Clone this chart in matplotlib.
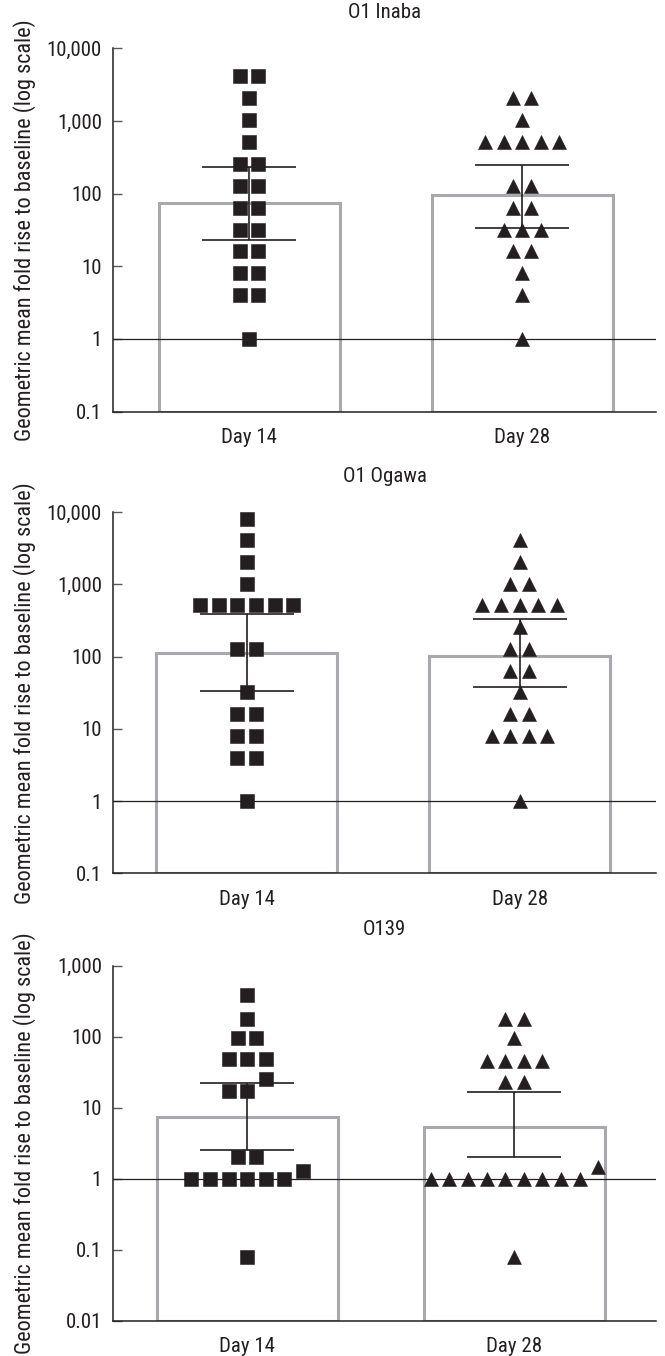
import numpy as np
import matplotlib
matplotlib.use('Agg')
import matplotlib.pyplot as plt
from matplotlib import font_manager
from matplotlib.ticker import FixedLocator, NullLocator

# pick a condensed sans if one is installed (figure uses a narrow Helvetica)
entries = font_manager.fontManager.ttflist
names = {f.name for f in entries}
if 'Liberation Sans Narrow' in names:
    plt.rcParams['font.family'] = ['Liberation Sans Narrow', 'DejaVu Sans']
elif 'Roboto Condensed' in names:
    plt.rcParams['font.family'] = ['Roboto Condensed', 'DejaVu Sans']
elif any(f.name == 'DejaVu Sans' and f.stretch == 'condensed' for f in entries):
    plt.rcParams['font.family'] = ['DejaVu Sans']
    plt.rcParams['font.stretch'] = 'condensed'
else:
    plt.rcParams['font.family'] = ['Liberation Sans', 'DejaVu Sans']

# Panel titles and categories
titles = ['O1 Inaba', 'O1 Ogawa', 'O139']
days = ['Day 14', 'Day 28']
ylabel = 'Geometric mean fold rise to baseline (log scale)'

# Individual fold rises
inaba_d14 = [4096, 4096, 2048, 1024, 512, 256, 256, 128, 128, 64, 64, 32, 32, 16, 16, 8, 8, 4, 4, 1]
inaba_d28 = [2048, 2048, 1024, 512, 512, 512, 512, 512, 128, 128, 64, 64, 32, 32, 32, 16, 16, 8, 4, 1]
ogawa_d14 = [8192, 4096, 2048, 1024, 512, 512, 512, 512, 512, 512, 128, 128, 32, 16, 16, 8, 8, 4, 4, 1]
ogawa_d28 = [4096, 2048, 1024, 1024, 512, 512, 512, 512, 512, 256, 128, 128, 64, 64, 32, 16, 16,
             8, 8, 8, 8, 1]
o139_d14 = [390, 180, 95, 95, 48, 48, 48, 25, 17, 17, 2, 2, 1.27, 1, 1, 1, 1, 1, 1, 0.08]
o139_d28 = [180, 180, 95, 46, 46, 46, 46, 23, 23, 1.45, 1, 1, 1, 1, 1, 1, 1, 1, 1, 0.08]

# Geometric means and 95% CI (Day 14, Day 28)
inaba_gm = [74, 97]
inaba_lo = [23, 34]
inaba_hi = [234, 245]
ogawa_gm = [113, 102]
ogawa_lo = [34, 38]
ogawa_hi = [389, 332]
o139_gm = [7.4, 5.3]
o139_lo = [2.5, 2.0]
o139_hi = [22, 16.6]

inaba_ticks = [0.1, 1, 10, 100, 1000, 10000]
ogawa_ticks = [0.1, 1, 10, 100, 1000, 10000]
o139_ticks = [0.01, 0.1, 1, 10, 100, 1000]

panels = [
    (titles[0], inaba_d14, inaba_d28, inaba_gm, inaba_lo, inaba_hi, inaba_ticks),
    (titles[1], ogawa_d14, ogawa_d28, ogawa_gm, ogawa_lo, ogawa_hi, ogawa_ticks),
    (titles[2], o139_d14, o139_d28, o139_gm, o139_lo, o139_hi, o139_ticks),
]

dark = '#231f20'
grey = '#a7a9ac'

rects = [[0.170, 0.6964, 0.8165, 0.2680],
         [0.170, 0.3560, 0.8165, 0.2662],
         [0.170, 0.0260, 0.8165, 0.2618]]
xlims = [(-0.498, 1.49), (-0.49, 1.50), (-0.502, 1.53)]


def swarm_offsets(vals, tol=0.2):
    # spread equal values side by side; lone points close to a row join it
    logs = np.round(np.log10(vals), 6)
    uniq, counts = np.unique(logs, return_counts=True)
    owner = {u: u for u in uniq}
    for u, c in zip(uniq, counts):
        if c == 1 and len(uniq) > 1:
            near = min([o for o in uniq if o != u], key=lambda o: abs(o - u))
            if abs(near - u) < tol:
                owner[u] = near
    rows = {}
    for i, lv in enumerate(logs):
        rows.setdefault(owner[lv], []).append(i)
    offs = np.zeros(len(vals))
    for idx in rows.values():
        idx = sorted(idx, key=lambda i: logs[i])
        n = len(idx)
        for k, i in enumerate(idx):
            offs[i] = k - (n - 1) / 2
    return offs


def fmt(v):
    return '{:,}'.format(int(v)) if v >= 1 else '{:g}'.format(v)


fig = plt.figure(figsize=(6.65, 13.56), dpi=100)

# size the fonts to the widths seen in the figure
rend = fig.canvas.get_renderer()


def text_width(s):
    t = fig.text(0, 0, s, fontsize=10)
    w = t.get_window_extent(rend).width
    t.remove()
    return w


fs = 10 * 55 / text_width('10,000')
lab_fs = 10 * 418 / text_width(ylabel)

for (title, d14, d28, gm, lo, hi, ticks), rect, xl in zip(panels, rects, xlims):
    ax = fig.add_axes(rect)
    ax.set_yscale('log')
    ymin, ymax = ticks[0], ticks[-1]
    ax.set_ylim(ymin, ymax)
    ax.set_xlim(*xl)

    px_unit = rect[2] * 665 / (xl[1] - xl[0])
    step = 18.6 / px_unit
    bw = 181 / px_unit

    ax.bar([0, 1], np.array(gm) - ymin, bottom=ymin, width=bw, facecolor='none',
           edgecolor=grey, linewidth=2.2, zorder=1)
    ax.axhline(1, color=dark, lw=0.9, zorder=2)
    gm = np.array(gm)
    yerr = [gm - np.array(lo), np.array(hi) - gm]
    ax.errorbar([0, 1], gm, yerr=yerr, fmt='none', ecolor=dark, elinewidth=1.2,
                capsize=34, capthick=1.2, zorder=3)

    for pos, vals, m, ms in [(0, d14, 's', 9.8), (1, d28, '^', 10)]:
        x = pos + swarm_offsets(vals) * step
        ax.plot(x, vals, ls='none', marker=m, ms=ms, color=dark, mec=dark, mew=0.4, zorder=4)

    ax.yaxis.set_major_locator(FixedLocator(ticks))
    ax.yaxis.set_minor_locator(NullLocator())
    ax.set_yticklabels([fmt(t) for t in ticks])
    ax.tick_params(axis='y', direction='in', length=6.7, width=1, color='#58595b',
                   labelsize=fs, labelcolor=dark, pad=8)
    ax.set_xticks([0, 1])
    ax.set_xticklabels(days)
    ax.tick_params(axis='x', length=0, pad=12, labelsize=fs, labelcolor=dark)

    for s in ['top', 'right']:
        ax.spines[s].set_visible(False)
    for s in ['left', 'bottom']:
        ax.spines[s].set_color(dark)
        ax.spines[s].set_linewidth(1.1)

    ax.set_title(title, fontsize=fs, color=dark, pad=22)
    ax.set_ylabel(ylabel, fontsize=lab_fs, color=dark)
    ax.yaxis.set_label_coords(-0.141, 0.5)

fig.savefig('out.png', dpi=100)
